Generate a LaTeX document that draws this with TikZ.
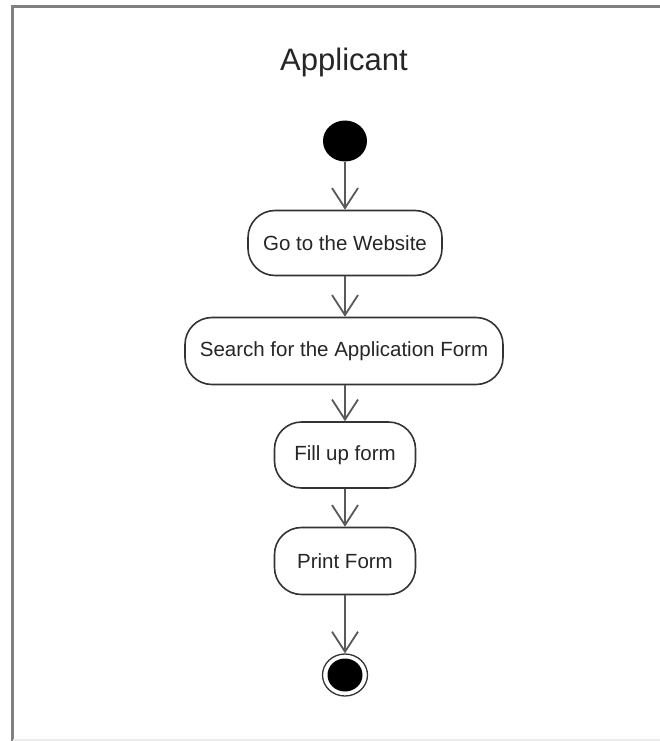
\documentclass[tikz,border=0pt]{standalone}
\usepackage{fontspec}
\setmainfont{Liberation Sans}
\usetikzlibrary{arrows.meta,shapes.geometric}
\begin{document}
\begin{tikzpicture}[x=1pt,y=-1pt,
  act/.style={draw=black!80, line width=1.6pt, rounded corners=27pt, minimum height=65pt, inner sep=0pt,
    font=\fontsize{20.5}{24}\selectfont, text=black!85},
  flow/.style={draw=black!65, line width=1.8pt, -{Straight Barb[length=20pt,width=26pt,line width=1.8pt]}}]
\useasboundingbox (0,0) rectangle (660,741);
\fill[white] (0,0) rectangle (660,741);
\draw[black!50, line width=3pt] (12.5,741) -- (12.5,6.5) -- (660,6.5);
\draw[black!8, line width=2pt] (12.5,740) -- (660,740);
\node[font=\fontsize{31}{36}\selectfont, text=black!85] (title) at (344,62) {Applicant};
\node[ellipse, fill=black, minimum width=44pt, minimum height=41pt, inner sep=0pt] (start) at (345,141) {};
\node[act, minimum width=194pt] (n1) at (345,243) {Go to the Website};
\node[act, minimum width=318pt, minimum height=67pt] (n2) at (344,351) {Search for the Application Form};
\node[act, minimum width=141pt, minimum height=66pt] (n3) at (345,455) {Fill up form};
\node[act, minimum width=141pt, minimum height=67pt] (n4) at (345,561) {Print Form};
\node[ellipse, draw=black!80, line width=1.3pt, minimum width=45pt, minimum height=42pt, inner sep=0pt] (end) at (345,675) {};
\node[ellipse, fill=black, minimum width=35pt, minimum height=33pt, inner sep=0pt] (endin) at (end.center) {};
\draw[flow] (start.south) -- (n1.north);
\draw[flow] (n1.south) -- (n1.south |- n2.north);
\draw[flow] (n2.south -| n3.north) -- (n3.north);
\draw[flow] (n3.south) -- (n4.north);
\draw[flow] (n4.south) -- (end.north);
\end{tikzpicture}
\end{document}
